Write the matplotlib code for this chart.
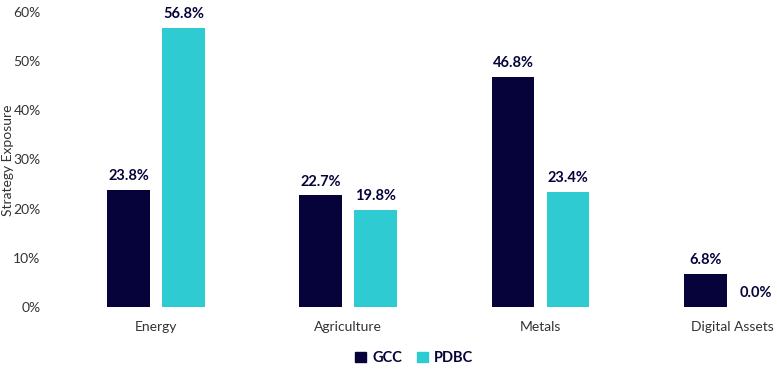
import matplotlib
matplotlib.use("Agg")
import matplotlib.pyplot as plt
import numpy as np
from matplotlib.patches import Patch

categories = ["Energy", "Agriculture", "Metals", "Digital Assets"]
gcc = [23.8, 22.7, 46.8, 6.8]
pdbc = [56.8, 19.8, 23.4, 0.0]
series_names = ["GCC", "PDBC"]
yticks = [0, 10, 20, 30, 40, 50, 60]

navy = "#06033a"
cyan = "#2ecbd2"
gray = "#333333"

plt.rcParams['font.family'] = ['Lato', 'DejaVu Sans']

fig = plt.figure(figsize=(7.77, 3.74), dpi=100)
W, H = 777, 374
step = 192.2
ax = fig.add_axes([60 / W, 67 / H, (W - 60) / W, 295 / H])

x = np.arange(len(categories))
bw = 0.223
off = 0.143
b1 = ax.bar(x - off, gcc, bw, color=navy)
b2 = ax.bar(x + off, pdbc, bw, color=cyan)

for bars, vals in ((b1, gcc), (b2, pdbc)):
    for i, (b, v) in enumerate(zip(bars, vals)):
        dx = -3 if (bars is b2 and i == len(vals) - 1) else 0
        ax.annotate(f"{v:.1f}%", (b.get_x() + b.get_width() / 2, v),
                    xytext=(dx, 10), textcoords="offset points",
                    ha="center", va="center", fontsize=10.5,
                    fontweight="bold", color=navy)

ax.set_xlim(-0.5, (W - 60) / step - 0.5)
ax.set_ylim(0, 60)
ax.set_yticks(yticks)
ax.set_yticklabels([f"{t}%" for t in yticks], color=gray, fontsize=10)
ax.set_xticks(x)
ax.set_xticklabels(categories, color=gray, fontsize=10)
ax.tick_params(length=0)
ax.tick_params(axis='y', pad=14)
ax.tick_params(axis='x', pad=10)
for s in ax.spines.values():
    s.set_visible(False)

fig.text(8 / W, 1 - 160 / H, "Strategy Exposure", rotation=90, ha="center",
         va="center", color=gray, fontsize=10)

handles = [Patch(color=navy), Patch(color=cyan)]
leg = fig.legend(handles, series_names, loc="center", bbox_to_anchor=(414 / W, 1 - 358 / H),
                 ncol=2, frameon=False, handlelength=0.75, handleheight=0.75,
                 handletextpad=0.4, columnspacing=1.0,
                 prop={'weight': 'bold', 'size': 10.5})
for t in leg.get_texts():
    t.set_color(navy)

fig.savefig("out.png", dpi=100)
